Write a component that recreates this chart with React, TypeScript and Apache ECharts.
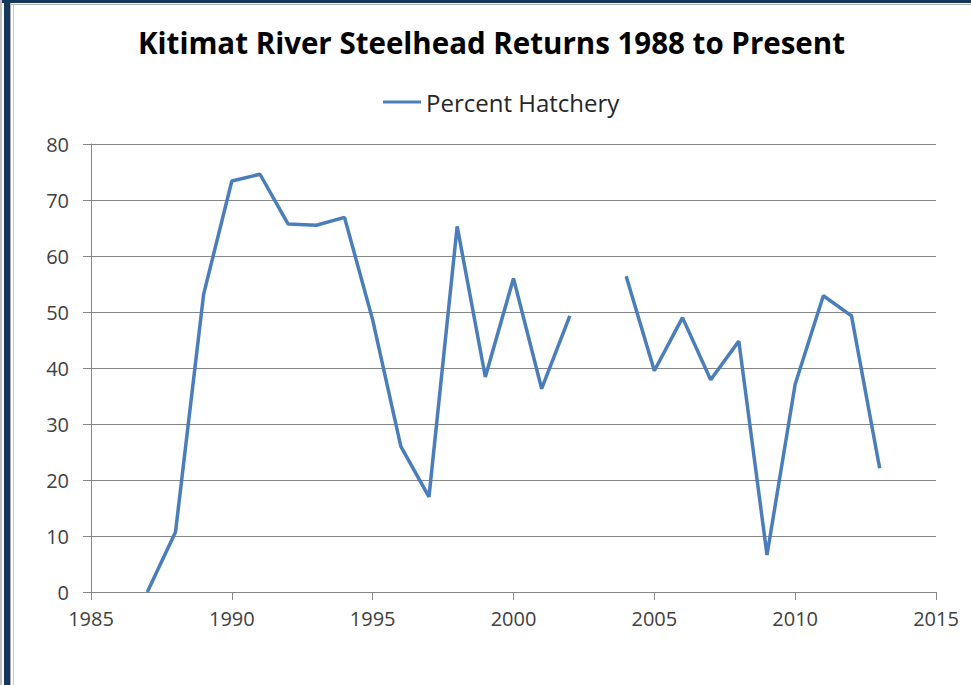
import React, { useEffect, useRef } from "react";
import * as echarts from "echarts";

const years = [1987, 1988, 1989, 1990, 1991, 1992, 1993, 1994, 1995, 1996, 1997, 1998, 1999, 2000, 2001, 2002, 2003, 2004, 2005, 2006, 2007, 2008, 2009, 2010, 2011, 2012, 2013];
const percentHatchery = [0, 10.7, 53.2, 73.4, 74.6, 65.7, 65.5, 66.9, 48.6, 26, 17, 65.3, 38.4, 56, 36.3, 49.3, null, 56.4, 39.5, 49, 37.9, 44.8, 6.6, 37.1, 52.9, 49.3, 22.1];
const seriesName = "Percent Hatchery";
const titleText = "Kitimat River Steelhead Returns 1988 to Present";

export default function App() {
  const ref = useRef<HTMLDivElement>(null);
  useEffect(() => {
    if (!ref.current) return;
    const chart = echarts.init(ref.current, null, { renderer: "svg" });
    const navy = "#17365d";
    chart.setOption({
      animation: false,
      backgroundColor: "#ffffff",
      title: {
        text: titleText,
        left: 133,
        top: 22,
        textStyle: { fontFamily: "Open Sans", fontWeight: "bold", fontSize: 29.5, color: "#000000" },
      },
      legend: {
        top: 85,
        left: 378,
        icon: "rect",
        itemWidth: 38,
        itemHeight: 3,
        textStyle: { fontFamily: "Open Sans", fontSize: 24, color: "#262626" },
        data: [seriesName],
      },
      grid: { left: 91, right: 35, top: 144, bottom: 93, containLabel: false },
      xAxis: {
        type: "value",
        min: 1985,
        max: 2015,
        interval: 5,
        axisLine: { show: true, lineStyle: { color: "#868686", width: 1 } },
        axisTick: { show: true, length: 8, lineStyle: { color: "#868686" } },
        splitLine: { show: false },
        axisLabel: {
          margin: 16,
          fontFamily: "Open Sans",
          fontSize: 20,
          color: "#404040",
          formatter: (v: number) => String(v),
        },
      },
      yAxis: {
        type: "value",
        min: 0,
        max: 80,
        interval: 10,
        axisLine: { show: true, lineStyle: { color: "#868686", width: 1 } },
        axisTick: { show: true, length: 8, lineStyle: { color: "#868686" } },
        splitLine: { show: true, lineStyle: { color: "#868686", width: 1 } },
        axisLabel: { margin: 22, fontFamily: "Open Sans", fontSize: 20, color: "#404040" },
      },
      series: [
        {
          name: seriesName,
          type: "line",
          data: years.map((y, i) => [y, percentHatchery[i] === null ? "-" : percentHatchery[i]]),
          showSymbol: false,
          symbol: "none",
          connectNulls: false,
          color: "#4a7ebb",
          lineStyle: { color: "#4a7ebb", width: 3.5 },
        },
      ],
      graphic: [
        { type: "rect", shape: { x: 0, y: 0, width: 971, height: 3 }, style: { fill: navy }, silent: true },
        { type: "rect", shape: { x: 4, y: 0, width: 6, height: 685 }, style: { fill: navy }, silent: true },
        { type: "rect", shape: { x: 0, y: 0, width: 2, height: 685 }, style: { fill: "#c0c0c0" }, silent: true },
        { type: "line", shape: { x1: 10.5, y1: 3, x2: 10.5, y2: 685 }, style: { stroke: "#b0b0b0", lineWidth: 1 }, silent: true },
        { type: "line", shape: { x1: 13.5, y1: 4, x2: 13.5, y2: 685 }, style: { stroke: "#c8c8c8", lineWidth: 1 }, silent: true },
        { type: "line", shape: { x1: 10, y1: 4.5, x2: 971, y2: 4.5 }, style: { stroke: "#b0b0b0", lineWidth: 1 }, silent: true },
      ],
    });
    return () => chart.dispose();
  }, []);
  return (
    <div
      ref={ref}
      style={{ position: "fixed", left: 0, top: 0, width: 971, height: 685 }}
    />
  );
}
